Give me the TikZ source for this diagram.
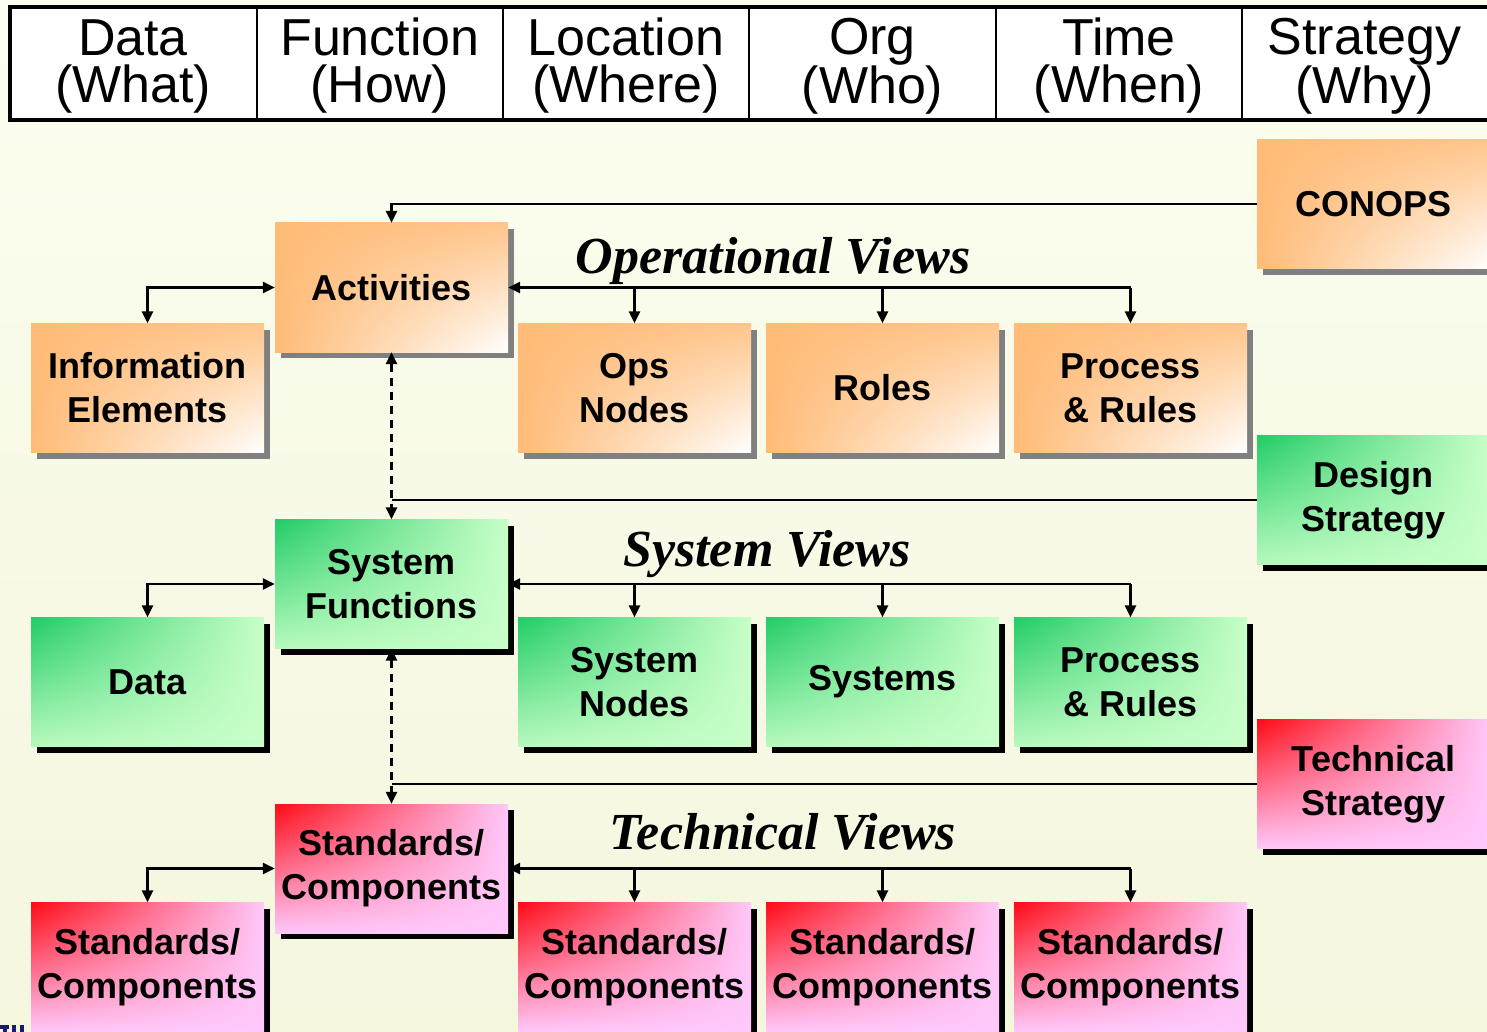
\documentclass[tikz,border=0pt]{standalone}
\usepackage{fontspec}
\setmainfont{Liberation Sans}
\newfontfamily\viewfont{Liberation Serif}
\usetikzlibrary{arrows.meta,shadows,shadings}
\definecolor{bgtop}{HTML}{FCFEF0}
\definecolor{bgbot}{HTML}{F4F6DE}
\definecolor{orng}{HTML}{FFBB77}
\definecolor{dgrn}{HTML}{22CC66}
\definecolor{lgrn}{HTML}{C8FFC8}
\definecolor{dred}{HTML}{FF0A14}
\definecolor{lpnk}{HTML}{FFC8FA}
\definecolor{shgray}{HTML}{808080}
\definecolor{navy}{HTML}{1A1A6E}
\begin{document}
\begin{tikzpicture}[x=1pt,y=-1pt,
  box/.style={minimum width=233pt, minimum height=129pt, inner sep=0pt, align=center,
    font=\bfseries\fontsize{36}{44}\selectfont},
  opbox/.style={box, upper left=orng, upper right=orng!85!white, lower left=orng, lower right=white,
    drop shadow={shadow xshift=6pt, shadow yshift=-6pt, fill=shgray, opacity=1}},
  sybox/.style={box, upper left=dgrn, upper right=lgrn, lower left=lgrn!90!dgrn, lower right=lgrn,
    drop shadow={shadow xshift=6pt, shadow yshift=-6pt, fill=black, opacity=1}},
  tebox/.style={box, upper left=dred, upper right=lpnk, lower left=lpnk, lower right=lpnk,
    drop shadow={shadow xshift=6pt, shadow yshift=-6pt, fill=black, opacity=1}},
  hdr/.style={inner sep=0pt, align=center, font=\fontsize{52}{47}\selectfont},
  view/.style={inner sep=0pt, anchor=base, font=\viewfont\bfseries\itshape\fontsize{52}{60}\selectfont},
  conn/.style={line width=2.5pt, -{Triangle[length=12pt,width=11pt]}},
  conn2/.style={line width=2.5pt, {Triangle[length=12pt,width=11pt]}-{Triangle[length=12pt,width=11pt]}},
  line/.style={line width=2pt},
  dconn/.style={conn2, dash pattern=on 8pt off 6pt}
]
\useasboundingbox (0,0) rectangle (1487,1032);
\shade[top color=bgtop, bottom color=bgbot] (0,0) rectangle (1487,1032);

% header
\draw[line width=4pt, fill=white] (10,7) rectangle (1497,120);
\foreach \x in {257,503,749,996,1242} \draw[line width=2.5pt] (\x,7) -- (\x,120);
\node[hdr] (h1) at (133,66) {Data\\(What)};
\node[hdr] (h2) at (380,66) {Function\\(How)};
\node[hdr] (h3) at (626,66) {Location\\(Where)};
\node[hdr] (h4) at (872.5,66) {Org\\(Who)};
\node[hdr] (h5) at (1119,66) {Time\\(When)};
\node[hdr] (h6) at (1364.5,66) {Strategy\\(Why)};

% operational
\node[opbox] (conops) at (1373.5,204) {CONOPS};
\node[opbox] (act) at (391.5,287.5) {Activities};
\node[opbox] (info) at (147.5,388) {Information\\Elements};
\node[opbox] (ops) at (634.5,388) {Ops\\Nodes};
\node[opbox] (roles) at (882.5,388) {Roles};
\node[opbox] (proc1) at (1130.5,388) {Process\\\& Rules};
\node[view] (opv) at (773,273) {Operational Views};

% system
\node[sybox] (design) at (1373.5,500) {Design\\Strategy};
\node[sybox] (sysf) at (391.5,584) {System\\Functions};
\node[sybox] (data) at (147.5,682) {Data};
\node[sybox] (sysn) at (634.5,682) {System\\Nodes};
\node[sybox] (systems) at (882.5,682) {Systems};
\node[sybox] (proc2) at (1130.5,682) {Process\\\& Rules};
\node[view] (syv) at (767,566) {System Views};

% technical
\node[tebox] (tech) at (1373.5,784) {Technical\\Strategy};
\node[tebox] (stdc) at (391.5,868.5) {Standards/\\Components};
\node[tebox] (std1) at (147.5,967) {Standards/\\Components};
\node[tebox] (std2) at (634.5,967) {Standards/\\Components};
\node[tebox] (std3) at (882.5,967) {Standards/\\Components};
\node[tebox] (std4) at (1130.5,967) {Standards/\\Components};
\node[view] (tev) at (783,849) {Technical Views};

% connectors: operational
\draw[conn] (conops.west) -| (act.north);
\draw[conn2] (act.west) -| (info.north);
\draw[conn] (proc1.north |- act.east) -- (act.east);
\draw[conn] (ops.north |- act.east) -- (ops.north);
\draw[conn] (roles.north |- act.east) -- (roles.north);
\draw[conn] (proc1.north |- act.east) -- (proc1.north);
\draw[dconn] (act.south) -- (sysf.north);
\draw[line] (design.west) -- (design.west -| act.south);

% connectors: system
\draw[conn2] (sysf.west) -| (data.north);
\draw[conn] (proc2.north |- sysf.east) -- (sysf.east);
\draw[conn] (sysn.north |- sysf.east) -- (sysn.north);
\draw[conn] (systems.north |- sysf.east) -- (systems.north);
\draw[conn] (proc2.north |- sysf.east) -- (proc2.north);
\draw[dconn] (sysf.south) -- (stdc.north);
\draw[line] (tech.west) -- (tech.west -| sysf.south);

% connectors: technical
\draw[conn2] (stdc.west) -| (std1.north);
\draw[conn] (std4.north |- stdc.east) -- (stdc.east);
\draw[conn] (std2.north |- stdc.east) -- (std2.north);
\draw[conn] (std3.north |- stdc.east) -- (std3.north);
\draw[conn] (std4.north |- stdc.east) -- (std4.north);

% logo fragment
\fill[navy] (0,1025) rectangle (9,1029);
\fill[navy] (3,1025) rectangle (7,1032);
\fill[navy] (12,1025) rectangle (16,1032);
\fill[navy] (20,1025) rectangle (24,1032);
\end{tikzpicture}
\end{document}
